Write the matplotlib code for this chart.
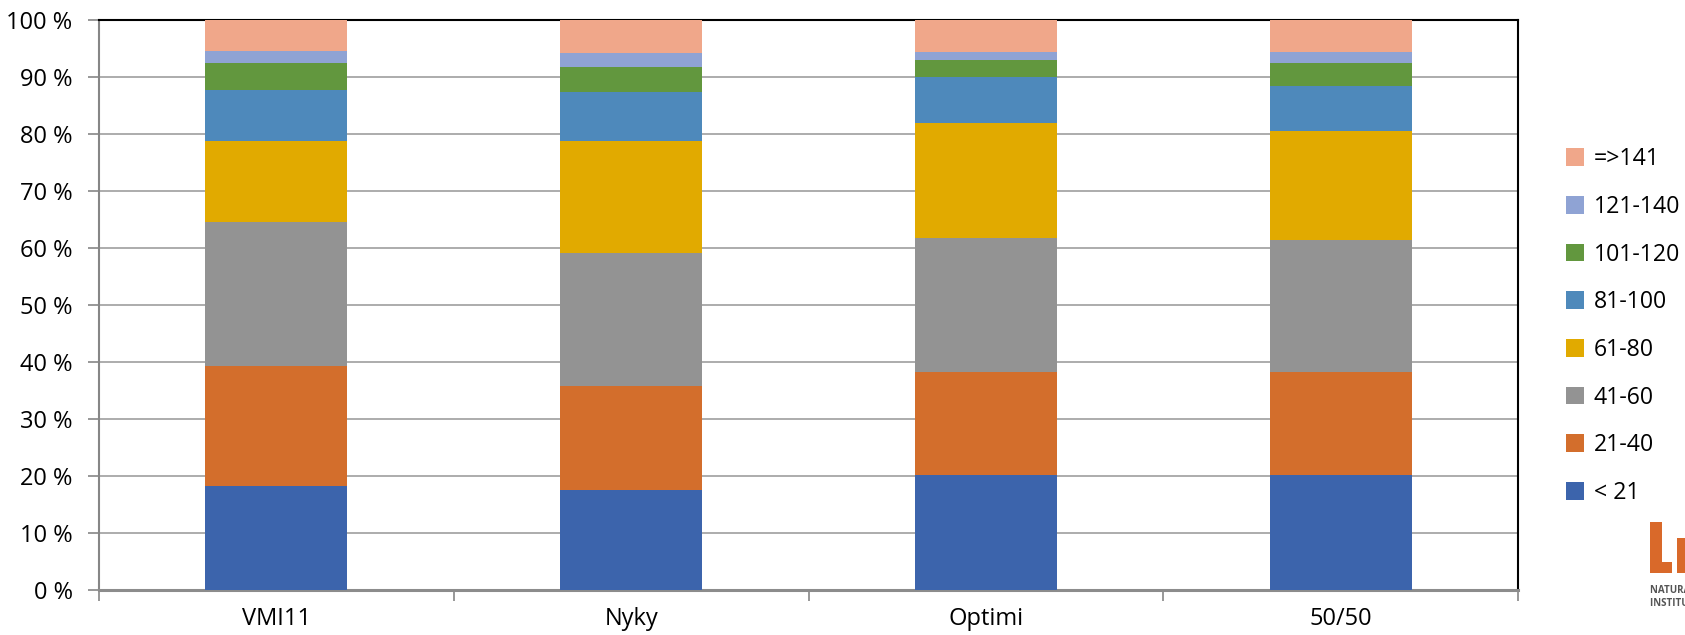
import matplotlib
matplotlib.use("Agg")
import matplotlib.pyplot as plt
from matplotlib.patches import Rectangle
import numpy as np

# Categories and diameter classes
categories = ["VMI11", "Nyky", "Optimi", "50/50"]
classes = ["< 21", "21-40", "41-60", "61-80", "81-100", "101-120", "121-140", "=>141"]

# Share (%) of each class per scenario
lt21 = [18.2, 17.6, 20.1, 20.1]
c21_40 = [21.1, 18.2, 18.2, 18.2]
c41_60 = [25.2, 23.4, 23.5, 23.1]
c61_80 = [14.2, 19.6, 20.2, 19.2]
c81_100 = [9.1, 8.5, 8.0, 7.9]
c101_120 = [4.7, 4.4, 3.0, 4.0]
c121_140 = [2.1, 2.5, 1.4, 1.9]
ge141 = [5.4, 5.8, 5.6, 5.6]

series = [lt21, c21_40, c41_60, c61_80, c81_100, c101_120, c121_140, ge141]
colors = ["#3C64AC", "#D36E2C", "#939393", "#E1AA00",
          "#4E89BB", "#62973E", "#8FA3D4", "#F0A78A"]

plt.rcParams["font.family"] = ["Open Sans", "DejaVu Sans"]

W, H = 1685, 635
fig = plt.figure(figsize=(W / 100, H / 100), dpi=100)
ax = fig.add_axes([99 / W, 1 - 590 / H, (1518 - 99) / W, (590 - 20) / H])

x = np.arange(len(categories))
bottom = np.zeros(len(categories))
handles = []
for vals, col, lab in zip(series, colors, classes):
    vals = np.array(vals, dtype=float)
    b = ax.bar(x, vals, bottom=bottom, width=0.40, color=col, label=lab,
               edgecolor="none", zorder=3)
    handles.append(b)
    bottom += vals

ax.set_xlim(-0.5, len(categories) - 0.5)
ax.set_ylim(0, 100)
ax.set_yticks(np.arange(0, 101, 10))
ax.set_yticklabels([f"{v} %" for v in range(0, 101, 10)])
ax.yaxis.grid(True, color="#A6A6A6", linewidth=1.3, zorder=0)
ax.set_axisbelow(True)

# Category ticks between groups
ax.set_xticks(x)
ax.set_xticklabels(categories)
ax.tick_params(axis="x", length=0, pad=12, labelsize=17)
ax.set_xticks(np.arange(-0.5, len(categories)), minor=True)
ax.tick_params(axis="x", which="minor", length=8, color="#868686", width=1.2)
ax.tick_params(axis="y", length=8, color="#868686", width=1.2, pad=11, labelsize=17)

for side in ["top", "right"]:
    ax.spines[side].set_color("black")
    ax.spines[side].set_linewidth(1.5)
ax.spines["left"].set_color("#868686")
ax.spines["left"].set_linewidth(1.5)
ax.spines["bottom"].set_color("#8C8C8C")
ax.spines["bottom"].set_linewidth(2.2)

leg = fig.legend(handles[::-1], classes[::-1], loc="upper left",
                 bbox_to_anchor=(1557 / W, 1 - 138 / H), frameon=False,
                 fontsize=16.7, handlelength=0.78, handleheight=0.78,
                 handletextpad=0.4, labelspacing=1.02, borderaxespad=0)

# Institute logo in the lower right corner (orange letter strokes + wordmark)
logo_orange = "#D9692A"


def px_rect(x0, y0, x1, y1):
    """Rectangle given in figure pixels measured from the top-left corner."""
    return Rectangle((x0 / W, 1 - y1 / H), (x1 - x0) / W, (y1 - y0) / H,
                     transform=fig.transFigure, color=logo_orange, lw=0)


for r in [px_rect(1650, 522, 1662, 573),   # L stem
          px_rect(1650, 562, 1672, 573),   # L foot
          px_rect(1677, 538, 1688, 573)]:  # start of the next letter
    fig.patches.append(r)

fig.text(1650 / W, 1 - 593 / H, "NATURAL RESOURCES", color="#555555",
         fontsize=7, fontweight="bold", ha="left", va="baseline")
fig.text(1650 / W, 1 - 606 / H, "INSTITUTE FINLAND", color="#555555",
         fontsize=7, fontweight="bold", ha="left", va="baseline")

fig.savefig("out.png", dpi=100)
